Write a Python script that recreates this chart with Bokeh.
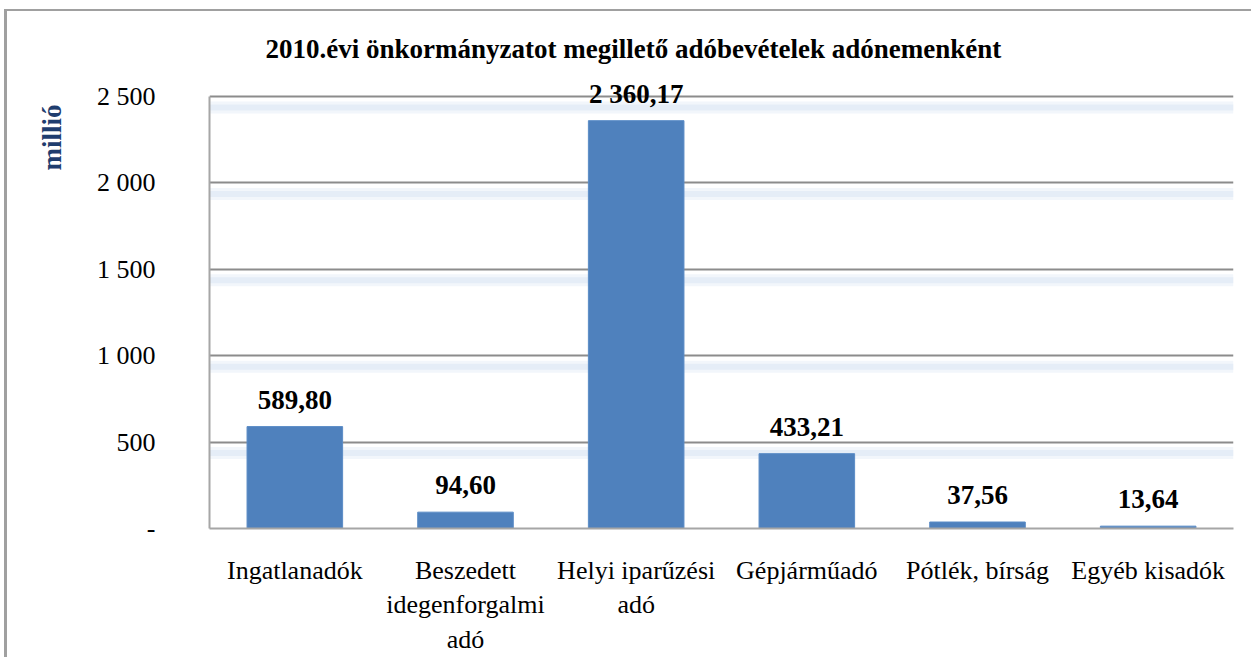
from bokeh.plotting import figure
from bokeh.models import (FixedTicker, Range1d, FactorRange, ColumnDataSource,
                          LabelSet, BoxAnnotation, Title)
from bokeh.embed import file_html
from bokeh.resources import INLINE

# ---- data ----
categories = ["Ingatlanadók", "Beszedett\nidegenforgalmi\nadó", "Helyi iparűzési\nadó",
              "Gépjárműadó", "Pótlék, bírság", "Egyéb kisadók"]
values = [589.80, 94.60, 2360.17, 433.21, 37.56, 13.64]
value_labels = ["589,80", "94,60", "2 360,17", "433,21", "37,56", "13,64"]
y_ticks = [0, 500, 1000, 1500, 2000, 2500]
y_tick_labels = ["-", "500", "1 000", "1 500", "2 000", "2 500"]
title_text = "2010.évi önkormányzatot megillető adóbevételek adónemenként"
y_title = "millió"

# ---- layout ----
FW = 1024
PLOT_H = 432          # pixel height of 0..2500
HEADROOM = 17         # extra pixels above top gridline for the value label
YMAX = 2500
upp = YMAX / PLOT_H   # data units per pixel
FONT = "Liberation Serif"
BAR = "#4F81BD"

p = figure(x_range=FactorRange(factors=categories, range_padding=0),
           y_range=Range1d(0, YMAX + HEADROOM * upp),
           frame_width=FW, frame_height=PLOT_H + HEADROOM,
           min_border_left=199, min_border_right=18,
           min_border_top=68, min_border_bottom=118,
           output_backend="svg", toolbar_location=None)
p.styles = {"border-left": "3px solid #a0a0a0", "border-top": "2px solid #a0a0a0",
            "margin-top": "9px", "margin-left": "4px"}
p.outline_line_color = None
p.background_fill_color = "white"
p.border_fill_color = "white"

# title
p.title.text = title_text
p.title.align = "left"
p.title.offset = 56
p.title.standoff = 32
p.title.text_font = FONT
p.title.text_font_size = "27px"
p.title.text_font_style = "bold"
p.title.text_color = "black"

# y-axis title placed near the top of the axis
p.add_layout(Title(text=y_title, align="right", offset=25, standoff=54,
                   text_font=FONT, text_font_size="27px", text_font_style="bold",
                   text_color="#1f3d6e"), "left")

# soft light-blue glow below each gridline
for t in y_ticks[1:]:
    p.add_layout(BoxAnnotation(bottom=t - 17 * upp, top=t - 5 * upp,
                               fill_color="#f2f6fb", fill_alpha=1.0,
                               line_color=None, level="underlay"))
    p.add_layout(BoxAnnotation(bottom=t - 14 * upp, top=t - 8 * upp,
                               fill_color="#e5edf7", fill_alpha=1.0,
                               line_color=None, level="underlay"))

src = ColumnDataSource(dict(cat=categories, val=values, lab=value_labels))
p.vbar(x="cat", top="val", width=0.56, source=src,
       fill_color=BAR, line_color="#5b8cc6", line_width=1)

p.add_layout(LabelSet(x="cat", y="val", text="lab", source=src,
                      text_align="center", text_baseline="alphabetic", y_offset=18,
                      text_font=FONT, text_font_size="27px", text_font_style="bold",
                      text_color="black"))

# axes
p.xaxis.major_label_text_font = FONT
p.xaxis.major_label_text_font_size = "26px"
p.xaxis.major_label_text_color = "black"
p.xaxis.major_tick_line_color = None
p.xaxis.minor_tick_line_color = None
p.xaxis.axis_line_color = "#a6a6a6"
p.xaxis.axis_line_width = 2
p.xaxis.major_label_standoff = 21

p.yaxis.ticker = FixedTicker(ticks=y_ticks)
p.yaxis.bounds = (0, YMAX)
p.yaxis.major_label_overrides = {t: l for t, l in zip(y_ticks, y_tick_labels)}
p.yaxis.major_label_text_font = FONT
p.yaxis.major_label_text_font_size = "26px"
p.yaxis.major_label_text_color = "black"
p.yaxis.major_tick_line_color = None
p.yaxis.minor_tick_line_color = None
p.yaxis.axis_line_color = "#a6a6a6"
p.yaxis.axis_line_width = 2
p.yaxis.major_label_standoff = 48

p.ygrid.ticker = FixedTicker(ticks=y_ticks)
p.ygrid.grid_line_color = "#8c8c8c"
p.ygrid.grid_line_width = 2
p.xgrid.grid_line_color = None

open("out.html", "w").write(file_html(p, INLINE))
